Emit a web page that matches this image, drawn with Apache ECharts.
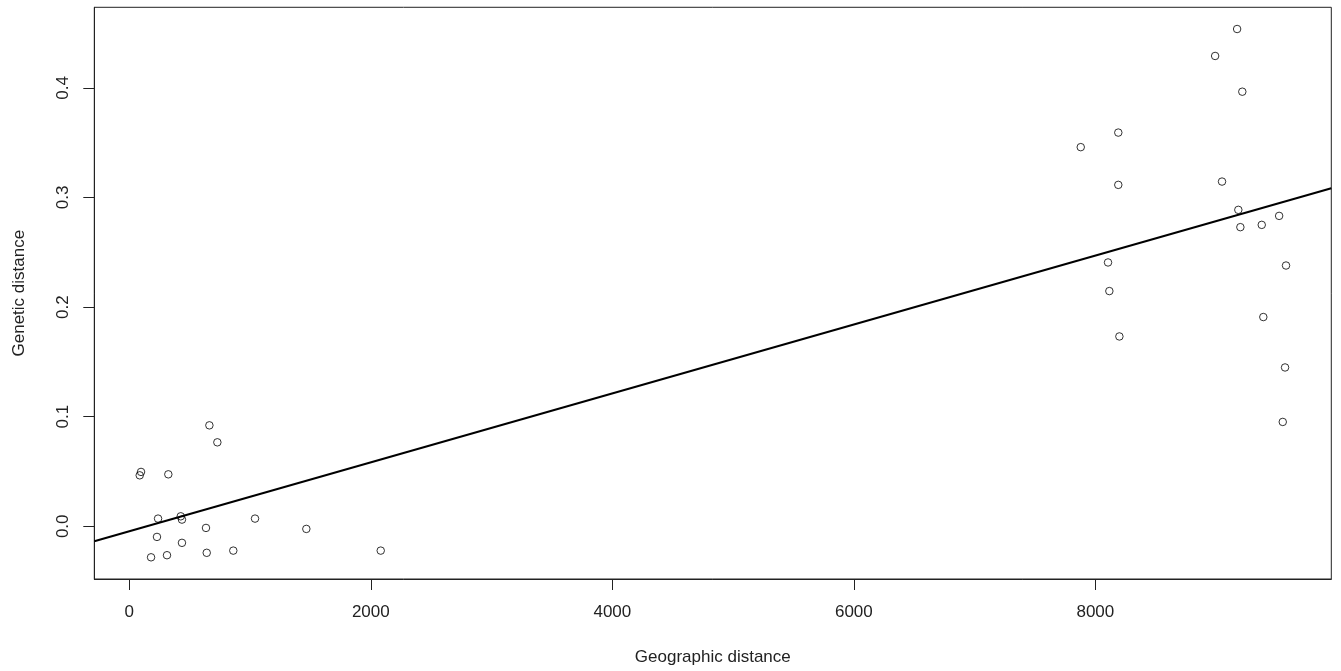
<!DOCTYPE html>
<html>
<head>
<meta charset="utf-8">
<script src="https://cdn.jsdelivr.net/npm/echarts@6/dist/echarts.min.js"></script>
<style>
html,body{margin:0;padding:0;background:#fff;}
#chart{width:1341px;height:671px;}
</style>
</head>
<body>
<div id="chart"></div>
<script>
// Geographic distance (x) and genetic distance (y) for each pair
const geoDist = [663, 729, 97, 86, 323, 238, 426, 436, 635, 1041, 1466, 229, 436, 180, 312, 641, 861, 2082,
  9174, 8992, 9217, 8190, 7879, 8190, 9049, 9184, 9522, 9201, 9378, 8105, 9579, 8116, 9391, 8199, 9571, 9552];
const genDist = [0.0921, 0.0766, 0.0496, 0.0465, 0.0474, 0.0070, 0.0091, 0.0061, -0.0015, 0.0070, -0.0024, -0.0097, -0.0151, -0.0283, -0.0264, -0.0242, -0.0222, -0.0222,
  0.4537, 0.4291, 0.3965, 0.3592, 0.3459, 0.3115, 0.3145, 0.2887, 0.2832, 0.2729, 0.2750, 0.2407, 0.2379, 0.2146, 0.1909, 0.1732, 0.1449, 0.0952];
// fitted regression line
const fitIntercept = -0.0046;
const fitSlope = 3.145e-5;
// tick labels
const xTicks = [0, 2000, 4000, 6000, 8000];
const yTicks = [0.0, 0.1, 0.2, 0.3, 0.4];
// axis ranges
const xRange = [-290, 9954];
const yRange = [-0.0481, 0.4735];

const points = geoDist.map((x, i) => [x, genDist[i]]);
const fitLine = xRange.map(x => [x, fitIntercept + fitSlope * x]);

const chart = echarts.init(document.getElementById('chart'), null, {renderer: 'canvas'});
const font = 'Liberation Sans, Arial, sans-serif';
chart.setOption({
  animation: false,
  backgroundColor: '#fff',
  grid: {
    left: 94.3, right: 9.7, top: 7.3, bottom: 91.5,
    show: true, borderColor: '#222', borderWidth: 1, backgroundColor: 'transparent'
  },
  xAxis: {
    type: 'value',
    min: xRange[0], max: xRange[1],
    name: 'Geographic distance',
    nameLocation: 'middle',
    nameGap: 70,
    nameTextStyle: {fontFamily: font, fontSize: 17, color: '#222'},
    axisLine: {show: true, onZero: false, lineStyle: {color: '#222', width: 1}},
    axisTick: {show: true, length: 11, customValues: xTicks, lineStyle: {color: '#222', width: 1}},
    axisLabel: {
      show: true, customValues: xTicks, margin: 25,
      fontFamily: font, fontSize: 17, color: '#222',
      formatter: v => String(v)
    },
    splitLine: {show: false}
  },
  yAxis: {
    type: 'value',
    min: yRange[0], max: yRange[1],
    name: 'Genetic distance',
    nameLocation: 'middle',
    nameGap: 66,
    nameRotate: 90,
    nameTextStyle: {fontFamily: font, fontSize: 17, color: '#222'},
    axisLine: {show: true, onZero: false, lineStyle: {color: '#222', width: 1}},
    axisTick: {show: true, length: 11, customValues: yTicks, lineStyle: {color: '#222', width: 1}},
    axisLabel: {
      show: true, customValues: yTicks, margin: 22, rotate: 90,
      fontFamily: font, fontSize: 17, color: '#222',
      formatter: v => Number(v).toFixed(1)
    },
    splitLine: {show: false}
  },
  series: [
    {
      type: 'scatter',
      data: points,
      symbol: 'circle',
      symbolSize: 7.5,
      itemStyle: {color: 'rgba(0,0,0,0)', borderColor: '#000', borderWidth: 1},
      z: 2
    },
    {
      type: 'line',
      data: fitLine,
      showSymbol: false,
      symbol: 'none',
      lineStyle: {color: '#000', width: 2},
      z: 3
    }
  ]
});
</script>
</body>
</html>
